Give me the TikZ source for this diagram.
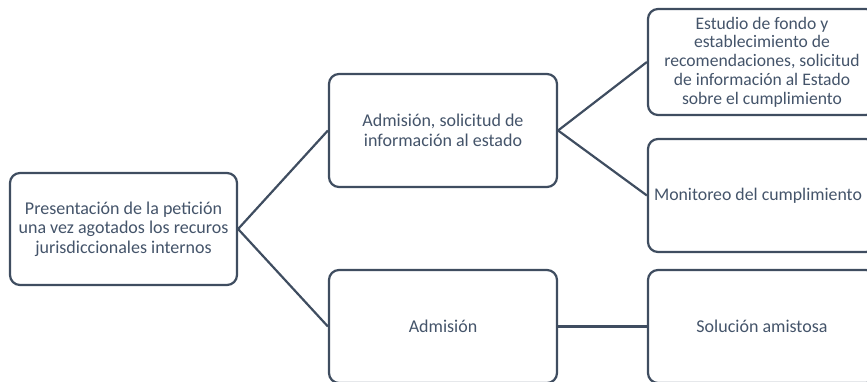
\documentclass[tikz,border=0pt]{standalone}
\usepackage{fontspec}
\setmainfont{Carlito}
\definecolor{edgecol}{HTML}{3F4D60}
\definecolor{txtcol}{HTML}{44546A}
\tikzset{
  stagebox/.style={draw=edgecol, line width=2.2pt, rounded corners=10pt, fill=white,
    text=txtcol, align=center, inner sep=0pt,
    minimum width=228pt, minimum height=113pt,
    font=\fontsize{18}{19.5}\selectfont},
  link/.style={draw=edgecol, line width=2.2pt}
}
\begin{document}
\begin{tikzpicture}[x=1pt,y=-1pt]
\useasboundingbox (0,0) rectangle (867,382);
\clip (0,0) rectangle (867,382);
% first stage
\node[stagebox, minimum width=227pt, minimum height=112pt] (pet) at (123.5,229)
  {Presentación de la petición\\una vez agotados los recuros\\jurisdiccionales internos};
% second stage
\node[stagebox] (adm1) at (443,130.5)
  {Admisión, solicitud de\\información al estado};
\node[stagebox] (adm2) at (443,326.5)
  {Admisión};
% third stage (boxes run past the right margin)
\node[stagebox, minimum height=106pt,
      font=\fontsize{17.6}{18.7}\selectfont] (est) at (762,62)
  {Estudio de fondo y\\establecimiento de\\recomendaciones, solicitud\\de información al Estado\\sobre el cumplimiento};
\node[stagebox, font=\fontsize{17.8}{19.5}\selectfont] (mon) at (762,195.5)
  {Monitoreo del cumplimiento\hspace*{8pt}};
\node[stagebox] (sol) at (762,326.5)
  {Solución amistosa};
% connectors
\draw[link] (pet.east) -- (adm1.west);
\draw[link] (pet.east) -- (adm2.west);
\draw[link] (adm1.east) -- (est.west);
\draw[link] (adm1.east) -- (mon.west);
\draw[link] (adm2.east) -- (sol.west);
\end{tikzpicture}
\end{document}
